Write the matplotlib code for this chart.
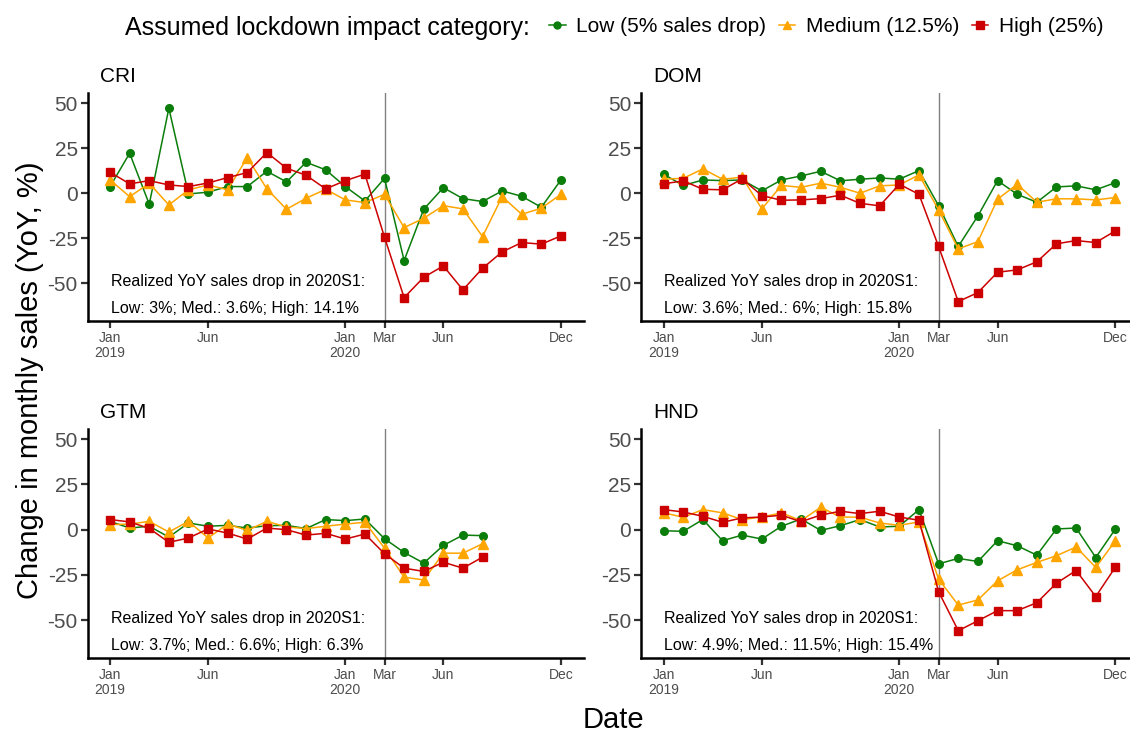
import numpy as np
import matplotlib
matplotlib.use("Agg")
import matplotlib.pyplot as plt
from matplotlib.lines import Line2D

plt.rcParams['font.family'] = ['Liberation Sans', 'DejaVu Sans']
plt.rcParams['axes.unicode_minus'] = False

# monthly YoY change in sales (%), Jan 2019 = 0
cri_low = [3.7, 22.2, -6.1, 47.2, -0.4, 0.6, 3.7, 3.7, 12.2, 6.3, 17.2, 13.0,
           3.7, -4.3, 8.3, -37.4, -8.9, 3.1, -3.0, -4.6, 1.3, -1.7, -7.8, 7.4]
cri_med = [7.4, -1.9, 5.5, -6.5, 1.9, 4.6, 1.9, 19.8, 2.4, -8.9, -2.8, 2.2,
           -3.7, -5.2, -0.6, -19.1, -13.9, -6.9, -8.7, -24.1, -1.9, -11.7, -8.3, -0.6]
cri_high = [11.7, 5.2, 7.0, 4.6, 3.7, 5.7, 8.7, 11.5, 22.6, 13.9, 10.0, 2.4,
            7.0, 10.6, -24.4, -58.0, -46.7, -40.4, -53.7, -41.7, -32.6, -27.4, -28.3, -23.7]

dom_low = [10.6, 4.3, 7.4, 7.0, 7.4, 1.3, 7.4, 9.6, 12.2, 6.9, 7.8, 8.5,
           7.8, 12.6, -6.9, -29.6, -12.6, 7.0, -0.6, -5.0, 3.5, 4.1, 1.9, 5.9]
dom_med = [7.8, 8.3, 13.5, 7.8, 8.9, -8.7, 4.3, 3.3, 5.6, 3.3, 0.0, 4.1,
           4.6, 10.2, -9.3, -30.9, -26.9, -3.3, 5.0, -5.0, -3.1, -3.1, -3.7, -2.4]
dom_high = [5.2, 6.9, 2.2, 1.9, 8.0, -1.3, -3.9, -3.7, -3.0, -1.1, -5.6, -7.0,
            5.0, -0.6, -29.6, -60.2, -55.2, -43.9, -42.6, -38.1, -28.1, -26.3, -27.4, -20.9]

gtm_low = [4.6, 0.9, 1.9, -4.1, 3.7, 1.9, 2.4, 0.9, 2.2, 2.4, 0.6, 5.6,
           5.0, 5.9, -5.0, -12.6, -18.5, -8.7, -3.0, -3.3]
gtm_med = [2.8, 3.1, 4.6, -1.3, 4.6, -4.6, 3.1, -0.4, 4.6, 1.5, 0.6, 1.9,
           3.1, 4.1, -10.2, -26.3, -27.8, -13.0, -13.0, -7.8]
gtm_high = [5.6, 4.3, 0.7, -7.0, -4.6, 0.4, -1.9, -5.2, 0.9, 0.0, -3.0, -2.0,
            -5.2, -2.4, -13.3, -21.3, -23.1, -18.0, -21.3, -15.2]

hnd_low = [-0.6, -0.9, 5.6, -6.1, -3.0, -5.2, 1.9, 5.9, -0.4, 2.2, 5.6, 1.5,
           1.9, 11.1, -18.9, -15.9, -17.6, -6.1, -8.9, -14.1, 0.4, 0.9, -15.4, 0.4]
hnd_med = [9.3, 6.9, 11.1, 9.3, 5.6, 7.0, 9.3, 5.0, 12.4, 7.0, 6.9, 3.7,
           2.4, 4.3, -27.4, -41.7, -38.9, -28.3, -22.2, -18.1, -14.4, -9.6, -20.9, -6.1]
hnd_high = [11.1, 9.8, 7.4, 4.1, 6.5, 7.0, 8.0, 4.4, 8.1, 10.2, 8.9, 10.2,
            7.0, 5.2, -34.3, -55.9, -50.4, -44.8, -44.8, -40.4, -29.6, -22.6, -37.0, -20.7]

countries = ["CRI", "DOM", "GTM", "HND"]
series = {
    "CRI": (cri_low, cri_med, cri_high),
    "DOM": (dom_low, dom_med, dom_high),
    "GTM": (gtm_low, gtm_med, gtm_high),
    "HND": (hnd_low, hnd_med, hnd_high),
}
realized = {
    "CRI": ("3%", "3.6%", "14.1%"),
    "DOM": ("3.6%", "6%", "15.8%"),
    "GTM": ("3.7%", "6.6%", "6.3%"),
    "HND": ("4.9%", "11.5%", "15.4%"),
}

tick_months = [0, 5, 12, 14, 17, 23]
tick_labels = ["Jan\n2019", "Jun", "Jan\n2020", "Mar", "Jun", "Dec"]
lockdown_month = 14

categories = ["Low (5% sales drop)", "Medium (12.5%)", "High (25%)"]
colors = ["#0b7d0b", "#ffa500", "#cc0000"]
markers = ["o", "^", "s"]
msizes = [5.5, 6.5, 5.8]

W, H = 1130, 734
fig = plt.figure(figsize=(W / 100, H / 100), dpi=100)


def px_axes(left, top, right, bottom):
    return fig.add_axes([left / W, 1 - bottom / H, (right - left) / W, (bottom - top) / H])


panel_px = {
    "CRI": (87.5, 93, 583.5, 321),
    "DOM": (641, 93, 1138, 321),
    "GTM": (87.5, 429, 583.5, 658),
    "HND": (641, 429, 1138, 658),
}

for c in countries:
    ax = px_axes(*panel_px[c])
    ax.axvline(lockdown_month, color="#808080", lw=1.0, zorder=1)
    for vals, col, mk, ms in zip(series[c], colors, markers, msizes):
        x = np.arange(len(vals))
        ax.plot(x, vals, color=col, lw=1.1, marker=mk, ms=ms, zorder=3)
    ax.set_xlim(-1.15, 24.15)
    ax.set_ylim(-71, 55.7)
    ax.set_yticks([-50, -25, 0, 25, 50])
    ax.set_xticks(tick_months)
    ax.set_xticklabels(tick_labels, fontsize=10, color="#4d4d4d", linespacing=1.1)
    ax.tick_params(axis="y", labelsize=15, labelcolor="#4d4d4d", length=5, width=1.6,
                   color="#333333", pad=2)
    ax.tick_params(axis="x", length=5, width=1.6, color="#333333", pad=2)
    for s in ["top", "right"]:
        ax.spines[s].set_visible(False)
    for s in ["left", "bottom"]:
        ax.spines[s].set_linewidth(1.8)
        ax.spines[s].set_color("black")
    ax.set_title(c, loc="left", fontsize=15, pad=8, x=0.025)
    lo, me, hi = realized[c]
    ax.text(0.03, -49, "Realized YoY sales drop in 2020S1:", fontsize=11.5, va="center")
    ax.text(0.03, -64, f"Low: {lo}; Med.: {me}; High: {hi}", fontsize=11.5, va="center")

fig.text(30 / W, 1 - 380 / H, "Change in monthly sales (YoY, %)", rotation=90,
         fontsize=21, ha="center", va="center")
fig.text(613 / W, 1 - 720 / H, "Date", fontsize=21, ha="center", va="center")

fig.text(125 / W, 1 - 28 / H, "Assumed lockdown impact category:", fontsize=18,
         ha="left", va="center")
handles = [Line2D([0], [0], color=col, marker=mk, ms=ms - 0.5, lw=1.1)
           for col, mk, ms in zip(colors, markers, msizes)]
fig.legend(handles, categories, loc="center left", bbox_to_anchor=(549 / W, 1 - 27 / H),
           ncol=3, frameon=False, fontsize=15, handlelength=0.8, handletextpad=0.5,
           columnspacing=0.6, borderaxespad=0, borderpad=0)

fig.savefig("out.png", dpi=100)
